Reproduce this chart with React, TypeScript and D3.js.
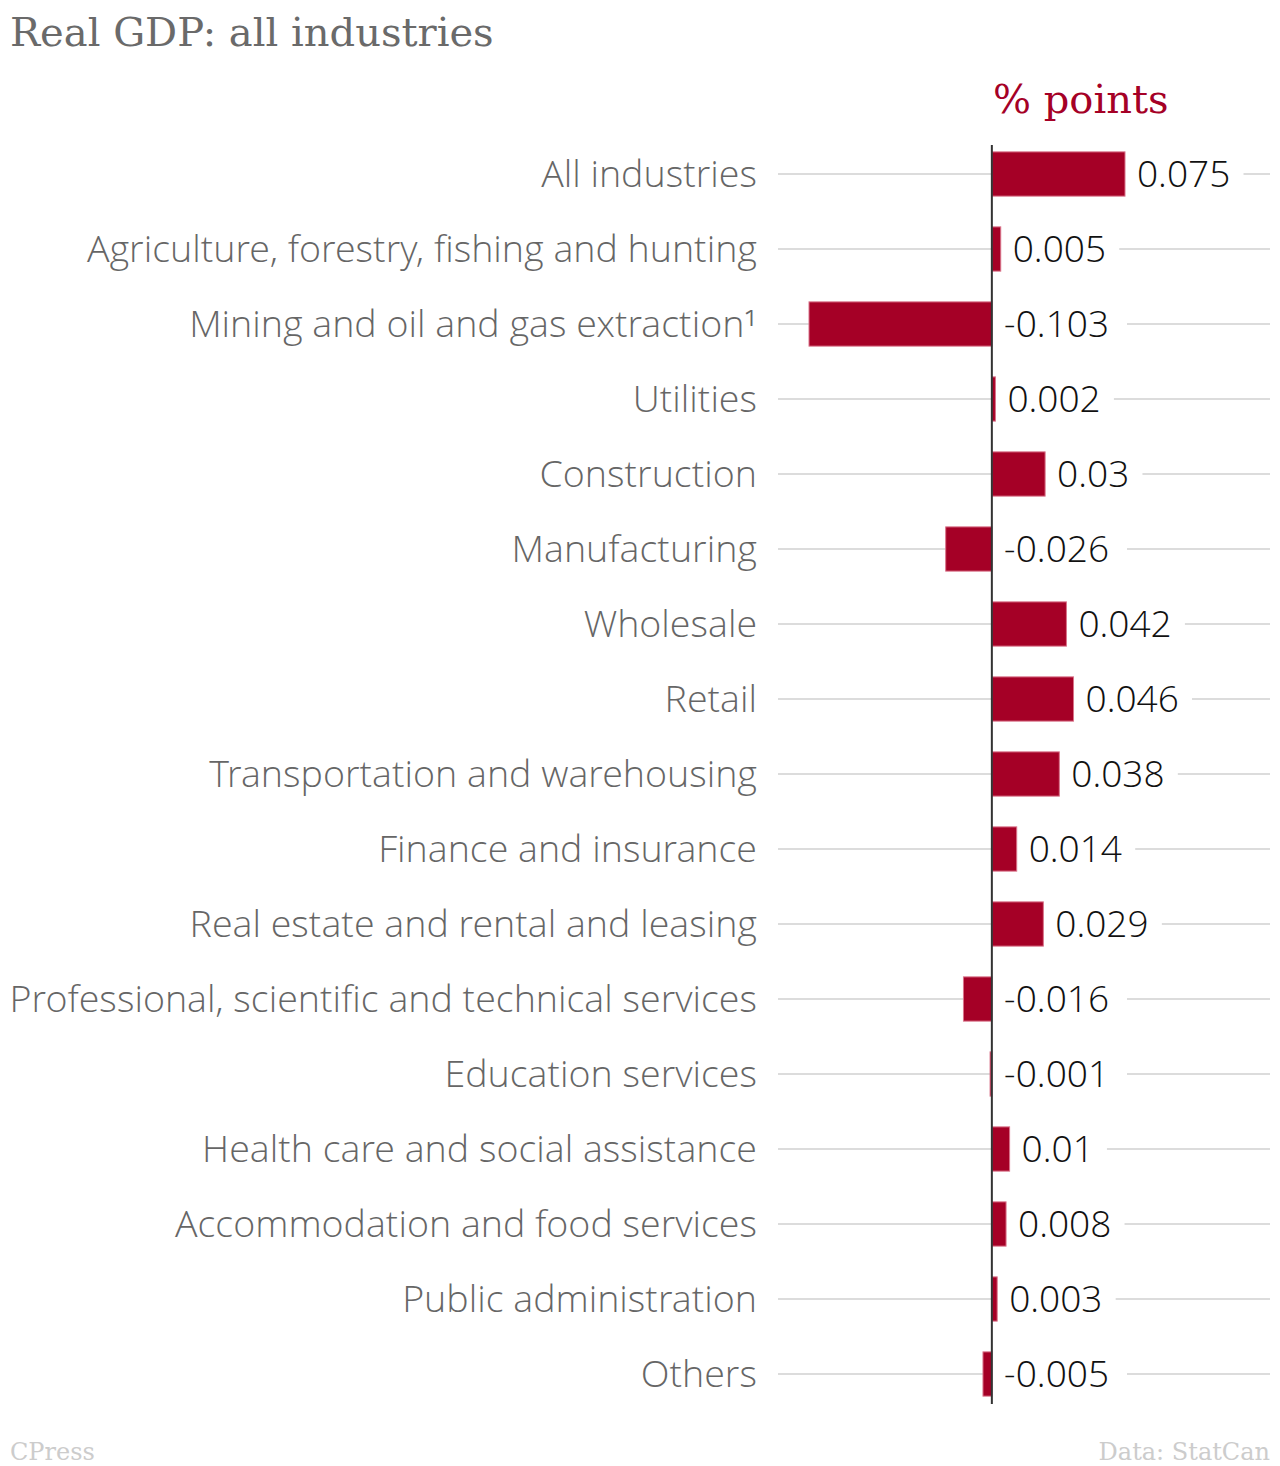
import React from "react";
import * as d3 from "d3";

const categories = [
  "All industries",
  "Agriculture, forestry, fishing and hunting",
  "Mining and oil and gas extraction¹",
  "Utilities",
  "Construction",
  "Manufacturing",
  "Wholesale",
  "Retail",
  "Transportation and warehousing",
  "Finance and insurance",
  "Real estate and rental and leasing",
  "Professional, scientific and technical services",
  "Education services",
  "Health care and social assistance",
  "Accommodation and food services",
  "Public administration",
  "Others",
];
const values = [0.075, 0.005, -0.103, 0.002, 0.03, -0.026, 0.042, 0.046, 0.038, 0.014, 0.029, -0.016, -0.001, 0.01, 0.008, 0.003, -0.005];
const valueLabels = ["0.075", "0.005", "-0.103", "0.002", "0.03", "-0.026", "0.042", "0.046", "0.038", "0.014", "0.029", "-0.016", "-0.001", "0.01", "0.008", "0.003", "-0.005"];

const W = 1280;
const H = 1466;
const SANS = "'Open Sans Light', 'Open Sans', sans-serif";
const SERIF = "'DejaVu Serif', serif";

export default function App() {
  const x = d3.scaleLinear().domain([-0.103, 0.075]).range([809, 1125]);
  const y = d3.scaleBand<string>().domain(categories).range([136.5, 1411.5]).paddingInner(0.41).paddingOuter(0.205);
  const x0 = x(0);
  const fs = 37;
  const charW = (s: string) => {
    let w = 0;
    for (const c of s) {
      if (c === ".") w += 0.266;
      else if (c === "-") w += 0.45;
      else w += 0.572;
    }
    return w * fs;
  };
  return (
    <svg width={W} height={H} style={{ position: "absolute", left: 0, top: 0, display: "block", background: "#fff" }}>
      <text x={10} y={46} fontFamily={SERIF} fontSize={40} fill="#6a6a6a">Real GDP: all industries</text>
      <text x={993} y={113} fontFamily={SERIF} fontSize={40} fill="#a50026">% points</text>
      {categories.map((c, i) => {
        const cy = (y(c) as number) + y.bandwidth() / 2;
        const v = values[i];
        const bx0 = Math.min(x(v), x0);
        const bw = Math.abs(x(v) - x0);
        const tx = v > 0 ? x(v) + 12 : x0 + 12;
        const tw = charW(valueLabels[i]);
        return (
          <g key={c}>
            <line x1={778} x2={1270} y1={cy} y2={cy} stroke="#dcdcdc" strokeWidth={2} />
            <rect x={tx - 12} y={cy - 22} width={tw + 24} height={44} fill="#fff" />
            <rect x={bx0} y={y(c)} width={Math.max(bw, 1)} height={y.bandwidth()} fill="#a50026" stroke="#d9738a" strokeWidth={1} />
            <text x={757} y={cy} dy="0.35em" textAnchor="end" fontFamily={SANS} fontWeight={300} fontSize={37.6} fill="#666">{c}</text>
            <text x={tx} y={cy} dy="0.35em" fontFamily={SANS} fontWeight={300} fontSize={fs} fill="#111">{valueLabels[i]}</text>
          </g>
        );
      })}
      <line x1={x0} x2={x0} y1={145} y2={1404} stroke="#333" strokeWidth={2} />
      <text x={10} y={1460} fontFamily={SERIF} fontSize={24} fill="#ccc">CPress</text>
      <text x={1270} y={1460} textAnchor="end" fontFamily={SERIF} fontSize={24} fill="#ccc">Data: StatCan</text>
    </svg>
  );
}
